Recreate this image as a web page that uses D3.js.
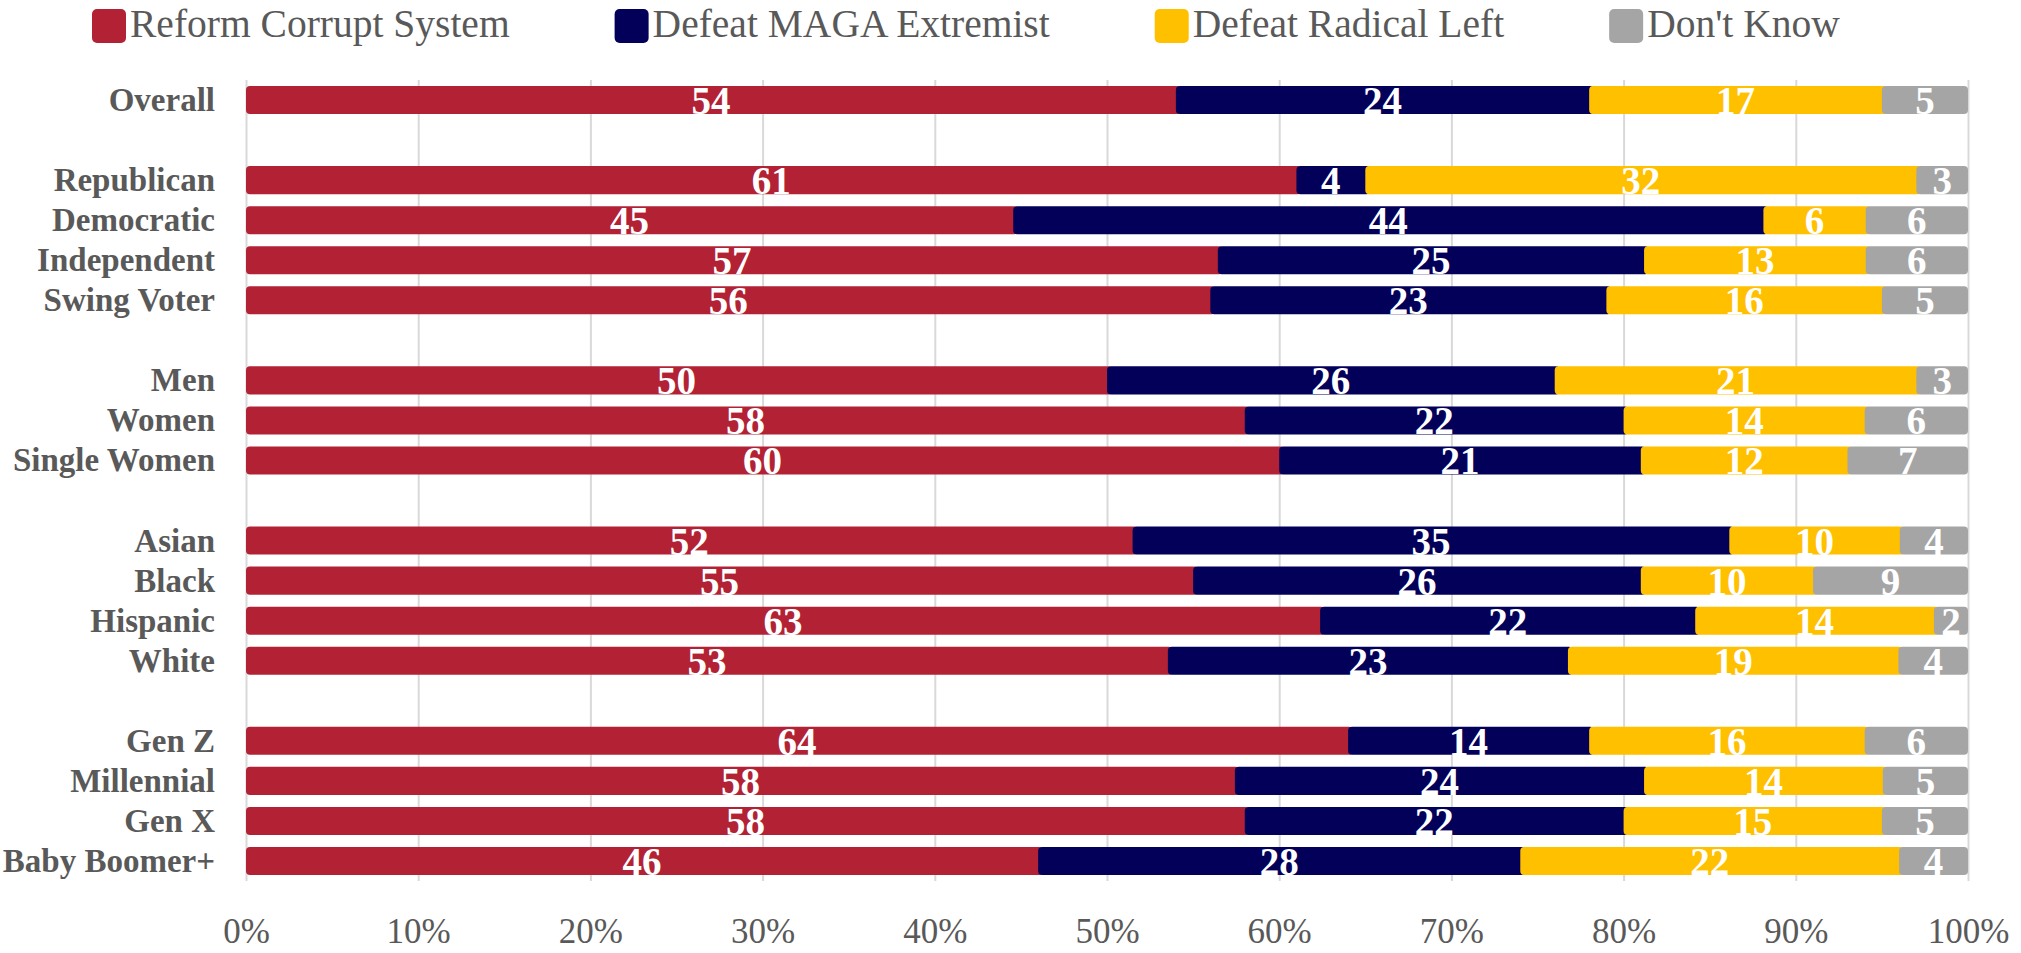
<!DOCTYPE html>
<html>
<head>
<meta charset="utf-8">
<script src="https://cdn.jsdelivr.net/npm/d3@7"></script>
<style>
body { margin: 0; background: #fff; }
text { font-family: "Liberation Serif", serif; }
</style>
</head>
<body>
<div id="graph"></div>
<script>
// values (percent)
let categories = ["Overall", "Republican", "Democratic", "Independent", "Swing Voter",
    "Men", "Women", "Single Women", "Asian", "Black", "Hispanic", "White",
    "Gen Z", "Millennial", "Gen X", "Baby Boomer+"];
let reform   = [54, 61, 45, 57, 56, 50, 58, 60, 52, 55, 63, 53, 64, 58, 58, 46];
let maga     = [24,  4, 44, 25, 23, 26, 22, 21, 35, 26, 22, 23, 14, 24, 22, 28];
let radical  = [17, 32,  6, 13, 16, 21, 14, 12, 10, 10, 14, 19, 16, 14, 15, 22];
let dontKnow = [ 5,  3,  6,  6,  5,  3,  6,  7,  4,  9,  2,  4,  6,  5,  5,  4];
let seriesNames = ["Reform Corrupt System", "Defeat MAGA Extremist", "Defeat Radical Left", "Don't Know"];
// a blank row comes after each of these
let groupEnds = ["Overall", "Swing Voter", "Single Women", "White"];

let keys = ["reform", "maga", "radical", "dk"];
let colors = ["#B22234", "#03005A", "#FFC000", "#A5A5A5"];
let textColor = "#595959";

let w = 2021, h = 953;
let top0 = 80, bottom0 = 881;

let svg = d3.select('#graph')
    .append('svg')
    .attr('width', w)
    .attr('height', h);

let rows = [];
categories.forEach((c, i) => {
    rows.push(c);
    if (groupEnds.includes(c)) rows.push('gap' + i);
});

let table = categories.map((c, i) => ({
    cat: c, reform: reform[i], maga: maga[i], radical: radical[i], dk: dontKnow[i]
}));

let x = d3.scaleLinear().domain([0, 1]).range([246, 1968]);
let y = d3.scaleBand()
    .domain(rows)
    .range([top0, bottom0])
    .paddingInner(0.3)
    .paddingOuter(0.15);

// grid + axis
let axis = d3.axisBottom(x)
    .ticks(10)
    .tickFormat(d3.format('.0%'))
    .tickSizeInner(-(bottom0 - top0))
    .tickSizeOuter(0)
    .tickPadding(37);

let ax = svg.append('g')
    .attr('transform', `translate(0,${bottom0})`)
    .call(axis);
ax.select('.domain').remove();
ax.selectAll('line').attr('stroke', '#d9d9d9').attr('stroke-width', 2);
ax.selectAll('text')
    .attr('fill', textColor)
    .style('font-size', '35px')
    .style('font-family', '"Liberation Serif", serif');

// bars
let stacked = d3.stack().keys(keys).offset(d3.stackOffsetExpand)(table);

let layers = svg.selectAll('g.layer')
    .data(stacked)
    .enter()
    .append('g')
    .attr('class', 'layer')
    .attr('fill', (d, i) => colors[i]);

layers.selectAll('rect')
    .data(d => d)
    .enter()
    .append('rect')
    .attr('x', d => x(d[0]))
    .attr('y', d => y(d.data.cat))
    .attr('width', function (d) {
        let last = d3.select(this.parentNode).datum().key === 'dk';
        return x(d[1]) - x(d[0]) + (last ? 0 : 5);
    })
    .attr('height', y.bandwidth())
    .attr('rx', 4);

let labels = svg.append('g');
stacked.forEach(s => {
    labels.selectAll('text.l' + s.key)
        .data(s)
        .enter()
        .append('text')
        .attr('class', 'l' + s.key)
        .attr('x', d => (x(d[0]) + x(d[1])) / 2)
        .attr('y', d => y(d.data.cat) + y.bandwidth())
        .attr('text-anchor', 'middle')
        .attr('fill', '#fff')
        .style('font-size', '39px')
        .style('font-weight', 'bold')
        .text(d => d.data[s.key]);
});

// category labels
svg.append('g')
    .selectAll('text')
    .data(categories)
    .enter()
    .append('text')
    .attr('x', 215)
    .attr('y', d => y(d) + y.bandwidth() / 2 + 11)
    .attr('text-anchor', 'end')
    .attr('fill', textColor)
    .style('font-size', '33px')
    .style('font-weight', 'bold')
    .text(d => d);

// legend
let lg = svg.append('g');
let lx = 92;
seriesNames.forEach((s, i) => {
    lg.append('rect')
        .attr('x', lx).attr('y', 9)
        .attr('width', 34).attr('height', 34)
        .attr('rx', 5)
        .attr('fill', colors[i]);
    let t = lg.append('text')
        .attr('x', lx + 38)
        .attr('y', 37)
        .attr('fill', textColor)
        .style('font-size', '39.5px')
        .text(s);
    lx += 38 + t.node().getComputedTextLength() + 105;
});
</script>
</body>
</html>
